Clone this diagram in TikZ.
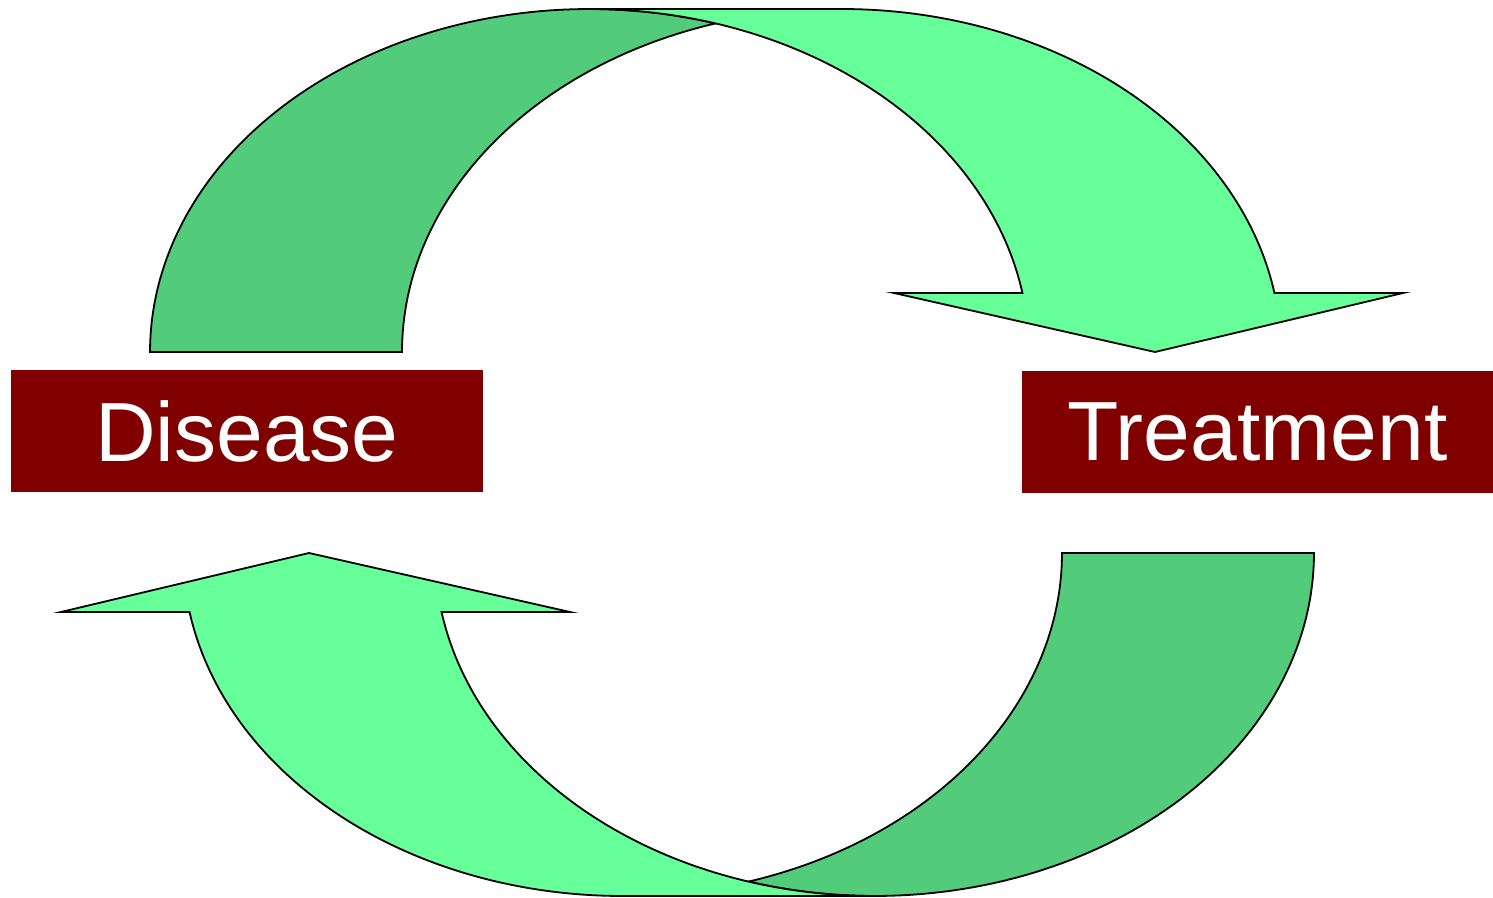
\documentclass[tikz,border=0pt]{standalone}
\usepackage{fontspec}
\setmainfont{Liberation Sans}
\definecolor{lightg}{HTML}{66FF99}
\definecolor{darkg}{HTML}{52CC7A}
\definecolor{boxred}{HTML}{800000}
\newcommand\mycurvedarrow{%
  % back (darker) band
  \draw[band, fill=darkg] (150,352)
    -- plot[domain=180:73.34, samples=80, variable=\t] ({589.5+439.5*cos(\t)},{352-343*sin(\t)})
    -- plot[domain=106.66:180, samples=80, variable=\t] ({841.5+439.5*cos(\t)},{352-343*sin(\t)})
    -- cycle;
  % front (lighter) band with arrow head
  \draw[band, fill=lightg] (1155,352) -- (894,293)
    -- plot[domain=9.905:90, samples=80, variable=\t] ({589.5+439.5*cos(\t)},{352-343*sin(\t)})
    -- plot[domain=90:9.905, samples=80, variable=\t] ({841.5+439.5*cos(\t)},{352-343*sin(\t)})
    -- (1403,293) -- cycle;
}
\begin{document}
\begin{tikzpicture}[x=0.5pt,y=-0.5pt,
  band/.style={draw=black, line width=0.9pt, line join=miter},
  lbl/.style={fill=boxred, text=white, inner sep=0pt, minimum width=236pt,
    minimum height=61pt, font=\fontsize{42}{48}\selectfont}]
\useasboundingbox (0,0) rectangle (1493,898);
\mycurvedarrow
\begin{scope}[rotate around={180:(732,452.5)}]
\mycurvedarrow
\end{scope}
\node[lbl] (disease) at (247,431) {Disease};
\node[lbl, minimum width=235.5pt] (treatment) at (1257.5,432) {Treatment};
\end{tikzpicture}
\end{document}
